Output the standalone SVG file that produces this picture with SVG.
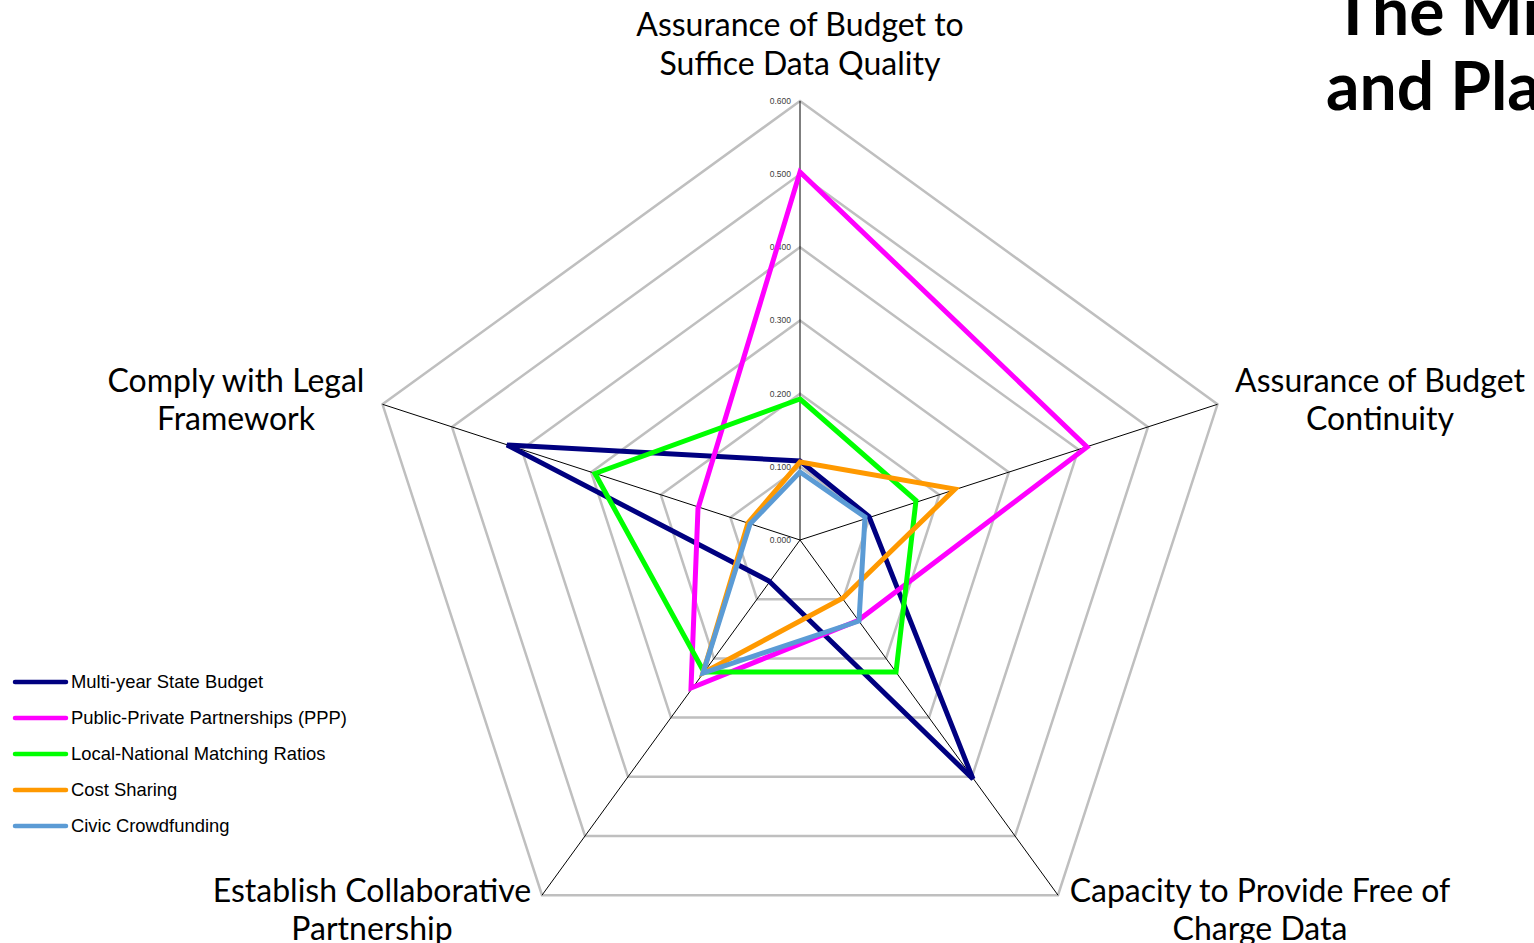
<svg xmlns="http://www.w3.org/2000/svg" width="1534" height="943" viewBox="0 0 1534 943">
<style>
.grid{fill:none;stroke:#BFBFBF;stroke-width:2.5}
.axis{stroke:#000;stroke-width:1}
.tick{font-family:"Liberation Sans",Arial,sans-serif;font-size:8.5px;fill:#404040;text-anchor:end}
.lab{font-family:Lato,"Open Sans",sans-serif;font-size:32px;fill:#000;text-anchor:middle}
.title{font-family:Lato,"Open Sans",sans-serif;font-size:66px;font-weight:bold;fill:#000}
.ser{fill:none;stroke-width:5;stroke-linejoin:miter}
.leg{font-family:"Liberation Sans",Arial,sans-serif;font-size:18.4px;fill:#000}
.legl{stroke-width:4.5;stroke-linecap:round}
</style>
<rect width="1534" height="943" fill="#fff"/>
<g id="title">
<text class="title" x="1333" y="35">The Mi</text>
<text class="title" x="1326" y="110">and Pla</text>
</g>
<g id="grid">
<polygon class="grid" points="800,466.8 869.6,517.4 843.0,599.2 757.0,599.2 730.4,517.4"/>
<polygon class="grid" points="800,393.7 939.2,494.8 886.0,658.4 714.0,658.4 660.8,494.8"/>
<polygon class="grid" points="800,320.5 1008.8,472.2 929.0,717.6 671.0,717.6 591.2,472.2"/>
<polygon class="grid" points="800,247.3 1078.4,449.6 972.0,776.8 628.0,776.8 521.6,449.6"/>
<polygon class="grid" points="800,174.2 1148.0,427.0 1015.0,836.0 585.0,836.0 452.0,427.0"/>
<polygon class="grid" points="800,101 1217.5,404.3 1058.0,895.2 542.0,895.2 382.5,404.3"/>
</g>
<g id="axes">
<line class="axis" x1="800" y1="540" x2="800" y2="101"/>
<line class="axis" x1="800" y1="540" x2="1217.5" y2="404.3"/>
<line class="axis" x1="800" y1="540" x2="1058" y2="895.2"/>
<line class="axis" x1="800" y1="540" x2="542" y2="895.2"/>
<line class="axis" x1="800" y1="540" x2="382.5" y2="404.3"/>
</g>
<g id="ticks">
<text class="tick" x="791" y="543">0.000</text>
<text class="tick" x="791" y="470">0.100</text>
<text class="tick" x="791" y="397">0.200</text>
<text class="tick" x="791" y="323">0.300</text>
<text class="tick" x="791" y="250">0.400</text>
<text class="tick" x="791" y="177">0.500</text>
<text class="tick" x="791" y="104">0.600</text>
</g>
<g id="series">
<polygon id="s-multi" class="ser" stroke="#000080" points="800,461 869,516.5 973,779 769,581 507,445"/>
<polygon id="s-ppp" class="ser" stroke="#FF00FF" points="800,172 1087,447 858,620.5 691,688 698,508.5"/>
<polygon id="s-green" class="ser" stroke="#00FF00" points="800,399 916,500.5 896,672 704,672 595,473.5"/>
<polygon id="s-orange" class="ser" stroke="#FF9900" points="800,462 955,489 843,598 703,673 748,523"/>
<polygon id="s-civic" class="ser" stroke="#5B9BD5" points="800,472 865,517 859,621 703,673 750,524"/>
</g>
<g id="labels">
<text class="lab" x="800" y="35.5">Assurance of Budget to</text>
<text class="lab" x="800" y="74.5">Suffice Data Quality</text>
<text class="lab" x="1380" y="391.5">Assurance of Budget</text>
<text class="lab" x="1380" y="429.5">Continuity</text>
<text class="lab" x="236" y="391.5">Comply with Legal</text>
<text class="lab" x="236" y="429.5">Framework</text>
<text class="lab" x="372" y="901.5">Establish Collaborative</text>
<text class="lab" x="372" y="939.5">Partnership</text>
<text class="lab" x="1260" y="901.5">Capacity to Provide Free of</text>
<text class="lab" x="1260" y="939.5">Charge Data</text>
</g>
<g id="legend">
<line class="legl" stroke="#000080" x1="15" y1="682" x2="66" y2="682"/>
<text class="leg" x="71" y="688">Multi-year State Budget</text>
<line class="legl" stroke="#FF00FF" x1="15" y1="718" x2="66" y2="718"/>
<text class="leg" x="71" y="724">Public-Private Partnerships (PPP)</text>
<line class="legl" stroke="#00FF00" x1="15" y1="754" x2="66" y2="754"/>
<text class="leg" x="71" y="760">Local-National Matching Ratios</text>
<line class="legl" stroke="#FF9900" x1="15" y1="790" x2="66" y2="790"/>
<text class="leg" x="71" y="796">Cost Sharing</text>
<line class="legl" stroke="#5B9BD5" x1="15" y1="826" x2="66" y2="826"/>
<text class="leg" x="71" y="832">Civic Crowdfunding</text>
</g>
</svg>
